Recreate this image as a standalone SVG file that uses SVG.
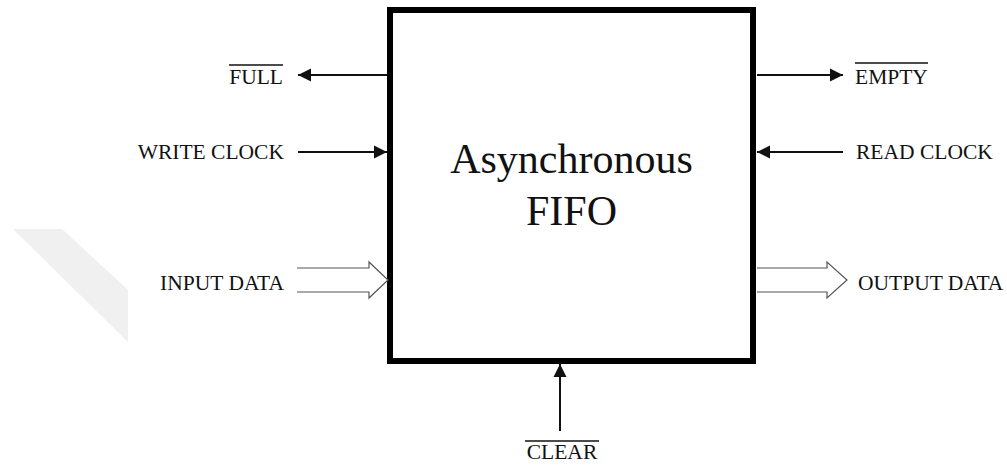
<svg xmlns="http://www.w3.org/2000/svg" width="1007" height="465" viewBox="0 0 1007 465">
<style>
.lbl{font-family:"Liberation Serif","Times New Roman",serif;font-size:21.5px;fill:#111}
.big{font-family:"Liberation Serif","Times New Roman",serif;font-size:42px;fill:#111;text-anchor:middle}
.wire{stroke:#111;stroke-width:2;fill:none}
.bus{stroke:#555;stroke-width:1.2;fill:#fff;stroke-linejoin:miter}
.ovl{stroke:#111;stroke-width:1.6}
</style>
<defs>
<marker id="ah" markerUnits="userSpaceOnUse" markerWidth="14" markerHeight="14" viewBox="0 0 14 14" refX="13" refY="7" orient="auto">
<path d="M0,0.5 L13,7 L0,13.5 Z" fill="#111"/>
</marker>
</defs>
<polygon points="13,229 62,229 128,290 128,342" fill="#f0f0f0"/>
<g id="fifo">
<rect x="390" y="10" width="363" height="351" fill="#fff" stroke="#000" stroke-width="6"/>
<text class="big" x="571.5" y="173">Asynchronous</text>
<text class="big" x="571.5" y="225">FIFO</text>
</g>
<g id="connectors">
<line class="wire" x1="387" y1="75" x2="298" y2="75" marker-end="url(#ah)"/>
<line class="wire" x1="298" y1="152" x2="387" y2="152" marker-end="url(#ah)"/>
<polyline class="bus" points="297,268 369,268 369,262 388,280 369,298 369,292 297,292"/>
<line class="wire" x1="757" y1="75" x2="843" y2="75" marker-end="url(#ah)"/>
<line class="wire" x1="843" y1="152" x2="757" y2="152" marker-end="url(#ah)"/>
<polyline class="bus" points="757,268 827,268 827,262 847,280 827,298 827,292 757,292"/>
<line class="wire" x1="560" y1="431" x2="560" y2="364" marker-end="url(#ah)"/>
</g>
<g id="full">
<text class="lbl" x="283" y="84" text-anchor="end">FULL</text>
<line class="ovl" x1="229" y1="65" x2="283" y2="65"/>
</g>
<g id="write-clock"><text class="lbl" x="284" y="159" text-anchor="end">WRITE CLOCK</text></g>
<g id="input-data"><text class="lbl" x="284" y="290" text-anchor="end">INPUT DATA</text></g>
<g id="empty">
<text class="lbl" x="855" y="84">EMPTY</text>
<line class="ovl" x1="855" y1="63" x2="928" y2="63"/>
</g>
<g id="read-clock"><text class="lbl" x="856" y="159">READ CLOCK</text></g>
<g id="output-data"><text class="lbl" x="858" y="290">OUTPUT DATA</text></g>
<g id="clear">
<text class="lbl" x="562" y="459" text-anchor="middle">CLEAR</text>
<line class="ovl" x1="525" y1="441" x2="599" y2="441"/>
</g>
</svg>
